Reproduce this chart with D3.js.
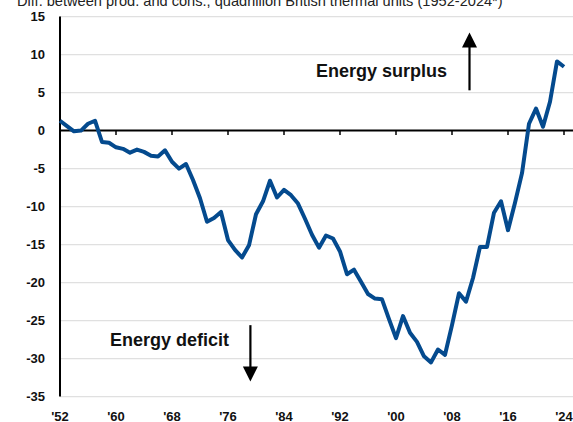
<!DOCTYPE html>
<html>
<head>
<meta charset="utf-8">
<script src="https://cdn.jsdelivr.net/npm/d3@7"></script>
<style>
  html, body { margin: 0; padding: 0; background: #fff; }
  svg { display: block; font-family: "Liberation Sans", Arial, Helvetica, sans-serif; }
</style>
</head>
<body>
<svg id="chart" width="573" height="422"></svg>
<script>
// ---- Data ----
const years = d3.range(1952, 2025);
const balance = [
  1.3, 0.6, -0.1, 0.0, 0.9, 1.3, -1.5, -1.6, -2.2, -2.4,
  -2.9, -2.5, -2.8, -3.3, -3.4, -2.6, -4.1, -5.0, -4.4, -6.5,
  -8.9, -12.0, -11.5, -10.7, -14.4, -15.7, -16.7, -15.1, -11.0, -9.3,
  -6.6, -8.8, -7.8, -8.5, -9.6, -11.6, -13.7, -15.4, -13.8, -14.2,
  -15.9, -18.9, -18.3, -19.9, -21.5, -22.1, -22.2, -24.8, -27.3, -24.4,
  -26.6, -27.8, -29.7, -30.5, -28.8, -29.5, -25.6, -21.4, -22.5, -19.4,
  -15.3, -15.3, -10.8, -9.3, -13.1, -9.5, -5.6, 0.9, 2.9, 0.5,
  3.8, 9.1, 8.4
];
const yTicks = [15, 10, 5, 0, -5, -10, -15, -20, -25, -30, -35];
const xTicks = [1952, 1960, 1968, 1976, 1984, 1992, 2000, 2008, 2016, 2024];
const xTickLabels = ["'52", "'60", "'68", "'76", "'84", "'92", "'00", "'08", "'16", "'24"];
const title = "Diff. between prod. and cons., quadrillion British thermal units (1952-2024*)";
const annotations = [
  { text: "Energy surplus", tx: 316, ty: 77, ax: 2010.5, from: 5.3, to: 12.9 },
  { text: "Energy deficit", tx: 110, ty: 346, ax: 1979.2, from: -25.6, to: -33.0 }
];

const data = years.map((yr, i) => ({ year: yr, value: balance[i] }));

// ---- Layout ----
const svg = d3.select("#chart");
const W = 573;
const x = d3.scaleLinear().domain([1952, 2024]).range([60, 564]);
const y = d3.scaleLinear().domain([-35, 15]).range([396.6, 16.6]);

// Title
svg.append("text")
  .attr("x", 17).attr("y", 6)
  .attr("font-size", 14.6)
  .attr("fill", "#222")
  .text(title);

// Gridlines
svg.append("g").selectAll("line").data(yTicks.filter(d => d !== 0)).join("line")
  .attr("x1", 60).attr("x2", W)
  .attr("y1", d => y(d)).attr("y2", d => y(d))
  .attr("stroke", "#e0e0e0").attr("stroke-width", 1.2);

// Y tick labels
svg.append("g").selectAll("text").data(yTicks).join("text")
  .attr("x", 45).attr("y", d => y(d))
  .attr("dy", "0.35em")
  .attr("text-anchor", "end")
  .attr("font-size", 13).attr("font-weight", "bold")
  .attr("fill", "#111")
  .text(d => d);

// X tick labels
svg.append("g").selectAll("text").data(xTicks).join("text")
  .attr("x", d => x(d)).attr("y", 420.5)
  .attr("text-anchor", "middle")
  .attr("font-size", 13).attr("font-weight", "bold")
  .attr("fill", "#111")
  .text((d, i) => xTickLabels[i]);

// Zero line + ticks
svg.append("line")
  .attr("x1", 60).attr("x2", W)
  .attr("y1", y(0)).attr("y2", y(0))
  .attr("stroke", "#000").attr("stroke-width", 2);
svg.append("g").selectAll("line").data(xTicks.slice(1)).join("line")
  .attr("x1", d => x(d)).attr("x2", d => x(d))
  .attr("y1", y(0)).attr("y2", y(0) + 4.5)
  .attr("stroke", "#000").attr("stroke-width", 1.5);

// Y axis line
svg.append("line")
  .attr("x1", 60).attr("x2", 60)
  .attr("y1", y(15)).attr("y2", y(-35))
  .attr("stroke", "#000").attr("stroke-width", 2);

// Data line
const line = d3.line().x(d => x(d.year)).y(d => y(d.value));
svg.append("path")
  .datum(data)
  .attr("d", line)
  .attr("fill", "none")
  .attr("stroke", "#044a8e")
  .attr("stroke-width", 4)
  .attr("stroke-linejoin", "round")
  .attr("stroke-linecap", "butt");

// Annotations
const ann = svg.append("g");
annotations.forEach(a => {
  ann.append("text")
    .attr("x", a.tx).attr("y", a.ty)
    .attr("font-size", 18).attr("font-weight", "bold")
    .attr("fill", "#111")
    .text(a.text);
  const ax = x(a.ax);
  const y0 = y(a.from), y1 = y(a.to);
  const dir = y1 < y0 ? -1 : 1;
  const headLen = 15, headHalf = 7.5;
  ann.append("line")
    .attr("x1", ax).attr("x2", ax)
    .attr("y1", y0).attr("y2", y1 - dir * headLen + dir * 1)
    .attr("stroke", "#000").attr("stroke-width", 2.2);
  ann.append("path")
    .attr("d", `M${ax},${y1} L${ax - headHalf},${y1 - dir * headLen} L${ax + headHalf},${y1 - dir * headLen} Z`)
    .attr("fill", "#000");
});
</script>
</body>
</html>
